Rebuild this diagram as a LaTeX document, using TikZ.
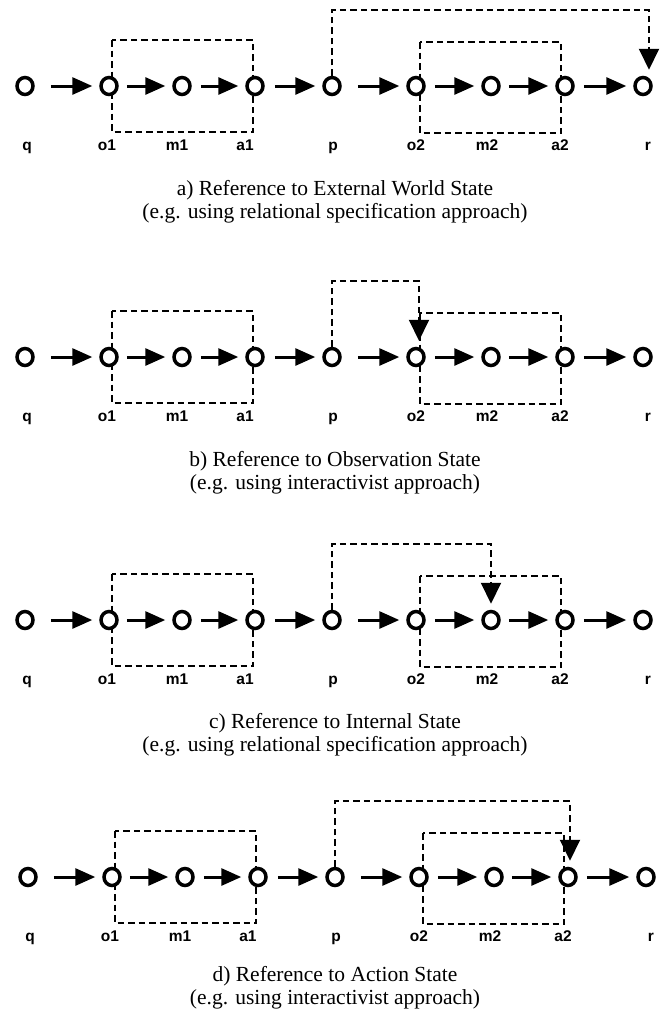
\documentclass[tikz,border=0pt]{standalone}
\usepackage{fontspec}
\setmainfont{Liberation Serif}
\newfontfamily\labfont{Liberation Sans}
\usetikzlibrary{arrows.meta,shapes.geometric}
\tikzset{
 st/.style={ellipse, draw, line width=3.5pt, fill=white, minimum width=16pt, minimum height=17pt, inner sep=0pt, outer sep=1.75pt},
 harr/.style={line width=3pt, -{Triangle[length=20pt,width=17pt]}, shorten >=7pt},
 dbox/.style={line width=2pt, dash pattern=on 6.5pt off 4pt},
 dloop/.style={line width=2pt, dash pattern=on 6.5pt off 4pt, -{Triangle[length=21pt,width=20pt]}, shorten >=6pt},
 lab/.style={font=\labfont\bfseries\fontsize{15.5}{17}\selectfont, anchor=base, inner sep=0pt},
 captxt/.style={font=\fontsize{21.5}{24}\selectfont, anchor=base, inner sep=0pt},
}
\newcommand{\chainrow}[5]{%
 \draw[dbox] (112+#3,#2-46) rectangle (253+#3,#2+46);
 \draw[dbox] (420+#3,#2-44) rectangle (561+#3,#2+47);
 \foreach \n/\x in {q/25,o1/109,m1/182,a1/255,p/332,o2/416,m2/491,a2/565,r/643}
   \node[st] (\n#1) at (\x+#3,#2) {};
 \foreach \n/\x in {q/27,o1/107,m1/177,a1/245,p/333,o2/416,m2/487,a2/560,r/648}
   \node[lab] (l\n#1) at (\x+#3,#2+64) {\n};
 \foreach \s/\t/\g in {q/o1/16pt,o1/m1/8pt,m1/a1/9pt,a1/p/10pt,p/o2/16pt,o2/m2/9pt,m2/a2/8pt,a2/r/9pt}
   \draw[harr, shorten <=\g] (\s#1) -- (\t#1);
 \coordinate (c#1) at (#5+#3,#2-76);
 \draw[dloop] (p#1.north) |- (c#1) -- (c#1 |- #4#1.north);
}
\begin{document}
\begin{tikzpicture}[x=1pt,y=-1pt]
\useasboundingbox (0,0) rectangle (670,1021);
\chainrow{a}{86}{0}{r}{649}
\chainrow{b}{357}{0}{o2}{419}
\chainrow{c}{620}{0}{m2}{491}
\chainrow{d}{877}{3}{a2}{567}
\node[captxt] (capa1) at (335,195) {a) Reference to External World State};
\node[captxt] (capa2) at (335,218) {(e.g. using relational specification approach)};
\node[captxt] (capb1) at (335,466) {b) Reference to Observation State};
\node[captxt] (capb2) at (335,489) {(e.g. using interactivist approach)};
\node[captxt] (capc1) at (335,728) {c) Reference to Internal State};
\node[captxt] (capc2) at (335,751) {(e.g. using relational specification approach)};
\node[captxt] (capd1) at (335,981) {d) Reference to Action State};
\node[captxt] (capd2) at (335,1004) {(e.g. using interactivist approach)};
\end{tikzpicture}
\end{document}
